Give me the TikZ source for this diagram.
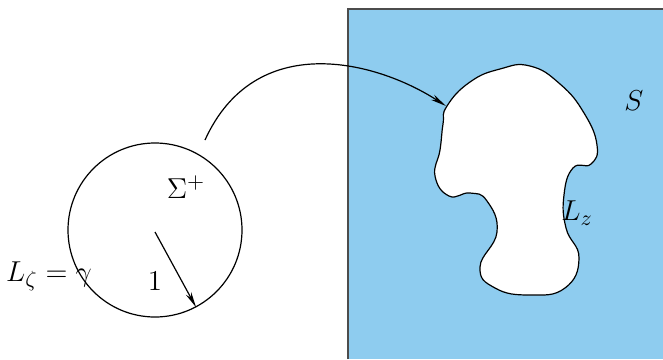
\documentclass[tikz,border=0pt]{standalone}
\usetikzlibrary{arrows.meta}
\definecolor{skyfill}{RGB}{142,204,239}
\begin{document}
\begin{tikzpicture}[x=0.5pt, y=-0.5pt,
                    every node/.style={font=\fontsize{15}{18}\selectfont},
                    thinarrow/.style={-{Stealth[length=8pt, width=3pt]}, semithick}
                    ]
                    \useasboundingbox (0,0) rectangle (663,359);

                    % the plane S
                    \fill[skyfill] (348,9) rectangle (663,359);
                    \draw[thick, black!70] (348,359) -- (348,9) -- (663,9);

                    % the curve L_z
                    \draw[fill=white, semithick] plot[smooth cycle, tension=0.8] coordinates {
                        (447,106) (470,82) (500,69) (530,66) (560,84) (584,113)
                        (597,145) (591,164) (573,168) (564,195) (566,228)
                        (579,258) (565,288) (530,295) (495,288) (480,267)
                        (497,232) (487,201) (470,193) (449,196) (435,176)
                        (440,150) (443,124)
                    };
                    \coordinate (tip) at (446,106);

                    % the disk
                    \node[draw, semithick, circle, minimum size=87pt, inner sep=0pt] (disk) at (155,230) {};
                    \coordinate (from) at (205,140);

                    \node (sigma) at (186,187) {$\Sigma^+$};
                    \node (one) at (155,281) {$1$};
                    \node (gamma) at (49,276) {$L_\zeta = \gamma$};
                    \node (Lz) at (577,213) {$L_z$};
                    \node (S) at (634,101) {$S$};

                    \draw[thinarrow] (155,232) -- (disk.-62.5);
                    \draw[thinarrow] (from) .. controls (255,30) and (375,60) .. (tip);
                \end{tikzpicture}
\end{document}
